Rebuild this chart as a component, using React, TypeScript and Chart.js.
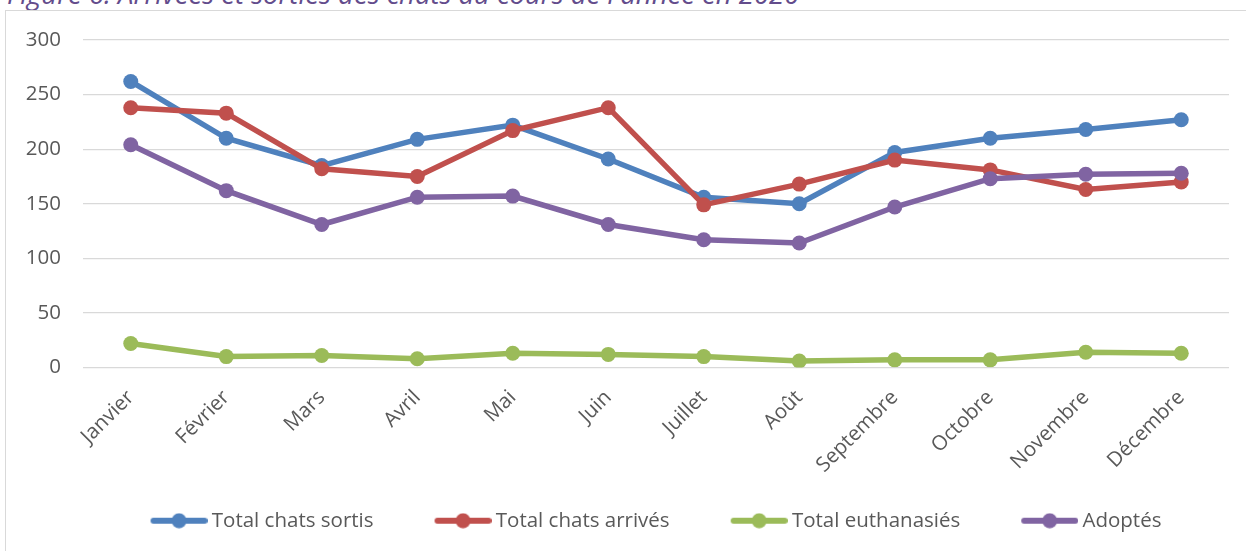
import React, { useEffect, useRef } from "react";
import { Chart, registerables } from "chart.js";

Chart.register(...registerables);

const months = [
  "Janvier", "Février", "Mars", "Avril", "Mai", "Juin",
  "Juillet", "Août", "Septembre", "Octobre", "Novembre", "Décembre",
];
const totalSortis = [262, 210, 185, 209, 222, 191, 156, 150, 197, 210, 218, 227];
const totalArrives = [238, 233, 182, 175, 217, 238, 149, 168, 190, 181, 163, 170];
const totalEuthanasies = [22, 10, 11, 8, 13, 12, 10, 6, 7, 7, 14, 13];
const adoptes = [204, 162, 131, 156, 157, 131, 117, 114, 147, 173, 177, 178];

const seriesLabels = ["Total chats sortis", "Total chats arrivés", "Total euthanasiés", "Adoptés"];
const seriesColors = ["#4F81BD", "#C0504D", "#9BBB59", "#8064A2"];

const yMin = 0;
const yMax = 300;
const yStep = 50;

const titleText = "Figure 6: Arrivées et sorties des chats au cours de l'année en 2020";

const FONT = "'Open Sans', 'DejaVu Sans', sans-serif";
const TEXT_COLOR = "#595959";
const FONT_SIZE = 20.5;

// legend marker: transparent left part, line+dot in the right 57px
function makeMarker(color: string): HTMLCanvasElement {
  const c = document.createElement("canvas");
  c.width = 114;
  c.height = 16;
  const ctx = c.getContext("2d")!;
  const x0 = 57;
  ctx.strokeStyle = color;
  ctx.lineWidth = 6;
  ctx.lineCap = "round";
  ctx.beginPath();
  ctx.moveTo(x0 + 3, 8);
  ctx.lineTo(x0 + 54, 8);
  ctx.stroke();
  ctx.fillStyle = color;
  ctx.beginPath();
  ctx.arc(x0 + 28.5, 8, 7.5, 0, Math.PI * 2);
  ctx.fill();
  return c;
}

const legendShift = {
  id: "legendShift",
  afterLayout(chart: any) {
    const lg = chart.legend;
    if (lg) {
      lg.left -= 25.5;
      lg.right -= 25.5;
    }
  },
};

export default function App() {
  const canvasRef = useRef<HTMLCanvasElement | null>(null);

  useEffect(() => {
    const canvas = canvasRef.current;
    if (!canvas) return;
    const values = [totalSortis, totalArrives, totalEuthanasies, adoptes];
    const markers = seriesColors.map((c) => makeMarker(c));
    const drawOrder = [4, 3, 2, 1];

    const chart = new Chart(canvas, {
      type: "line",
      data: {
        labels: months,
        datasets: values.map((v, i) => ({
          label: seriesLabels[i],
          data: v,
          borderColor: seriesColors[i],
          backgroundColor: seriesColors[i],
          pointBackgroundColor: seriesColors[i],
          pointBorderColor: seriesColors[i],
          borderWidth: 5.5,
          pointRadius: 7.5,
          pointBorderWidth: 0,
          pointHoverRadius: 7.5,
          tension: 0,
          fill: false,
          order: drawOrder[i],
        })),
      },
      plugins: [legendShift],
      options: {
        responsive: false,
        animation: false,
        devicePixelRatio: 1,
        layout: { padding: { top: 40, right: 17, bottom: 10, left: 0 } },
        scales: {
          x: {
            offset: true,
            grid: { display: false, drawTicks: false },
            border: { display: false },
            ticks: {
              color: TEXT_COLOR,
              font: { family: FONT, size: FONT_SIZE },
              minRotation: 45,
              maxRotation: 45,
              autoSkip: false,
              padding: 18,
            },
            afterFit: (scale: any) => {
              scale.height = 133;
            },
          },
          y: {
            min: yMin,
            max: yMax,
            grid: { color: "#d9d9d9", lineWidth: 1.3, drawTicks: false },
            border: { display: false },
            ticks: {
              stepSize: yStep,
              color: TEXT_COLOR,
              font: { family: FONT, size: FONT_SIZE },
              padding: 22,
            },
            afterFit: (scale: any) => {
              scale.width = 83;
            },
          },
        },
        plugins: {
          title: { display: false },
          tooltip: { enabled: false },
          legend: {
            display: true,
            position: "bottom",
            fullSize: false,
            labels: {
              usePointStyle: true,
              pointStyleWidth: 102,
              padding: 10,
              color: TEXT_COLOR,
              font: { family: FONT, size: FONT_SIZE },
              generateLabels: (ch: any) => {
                const items = Chart.defaults.plugins.legend.labels.generateLabels(ch);
                items.sort((a: any, b: any) => a.datasetIndex - b.datasetIndex);
                return items.map((it: any) => ({
                  ...it,
                  pointStyle: markers[it.datasetIndex],
                }));
              },
            },
          },
        },
      },
    } as any);

    return () => chart.destroy();
  }, []);

  return (
    <div
      style={{
        position: "absolute",
        left: 0,
        top: 0,
        width: 1246,
        height: 551,
        overflow: "hidden",
        background: "#ffffff",
      }}
    >
      <div
        style={{
          position: "absolute",
          left: 7,
          top: -20.5,
          whiteSpace: "nowrap",
          fontFamily: FONT,
          fontStyle: "italic",
          fontSize: 27.5,
          lineHeight: "27.5px",
          color: "#634C8C",
        }}
      >
        {titleText}
      </div>
      <div
        style={{
          position: "absolute",
          left: 5,
          top: 10,
          width: 1400,
          height: 700,
          border: "1px solid #d9d9d9",
          boxSizing: "border-box",
        }}
      />
      <canvas
        ref={canvasRef}
        width={1246}
        height={551}
        style={{ position: "absolute", left: 0, top: 0, width: 1246, height: 551 }}
      />
    </div>
  );
}
